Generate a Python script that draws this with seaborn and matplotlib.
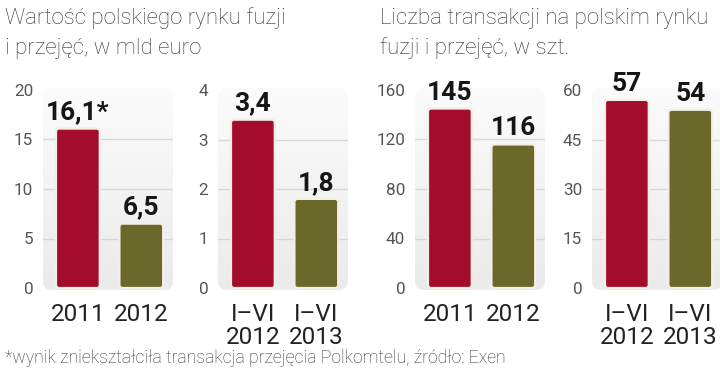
import numpy as np
import pandas as pd
import matplotlib.pyplot as plt
import seaborn as sns
from matplotlib.patches import FancyBboxPatch

# values
value_years = ['2011', '2012']
value_mld = [16.1, 6.5]
value_text = ['16,1*', '6,5']

value_h1_periods = ['I–VI\n2012', 'I–VI\n2013']
value_h1_mld = [3.4, 1.8]
value_h1_text = ['3,4', '1,8']

count_years = ['2011', '2012']
count_deals = [145, 116]
count_text = ['145', '116']

count_h1_periods = ['I–VI\n2012', 'I–VI\n2013']
count_h1_deals = [57, 54]
count_h1_text = ['57', '54']

title_value = ['Wartość polskiego rynku fuzji', 'i przejęć, w mld euro']
title_count = ['Liczba transakcji na polskim rynku', 'fuzji i przejęć, w szt.']
footnote = '*wynik zniekształciła transakcja przejęcia Polkomtelu, źródło: Exen'

RED = '#a30d2b'
OLIVE = '#6a692b'
W, H = 720, 372
AX_TOP, AX_BOT = 88, 290

sns.set_theme(style='white')
plt.rcParams['font.family'] = ['Roboto', 'DejaVu Sans']

fig = plt.figure(figsize=(W / 100, H / 100), dpi=100)


def panel(left_px, cats, vals, texts, ticks):
    ax = fig.add_axes([left_px / W, 1 - AX_BOT / H, 130 / W, (AX_BOT - AX_TOP) / H])
    df = pd.DataFrame({'cat': cats, 'val': vals})
    sns.barplot(data=df, x='cat', y='val', hue='cat', palette=[RED, OLIVE],
                saturation=1, width=0.69, legend=False, ax=ax, zorder=3)
    top = ticks[-1]
    span = AX_BOT - AX_TOP - 4

    # rounded background with a soft vertical gradient
    bg = FancyBboxPatch((0, 0), 1, 1, boxstyle='round,pad=0,rounding_size=0.07',
                        mutation_aspect=130 / 202, transform=ax.transAxes,
                        facecolor='none', edgecolor='none')
    ax.add_patch(bg)
    grad = np.linspace(0, 1, 100).reshape(-1, 1)
    im = ax.imshow(grad, cmap=sns.blend_palette(['#fbfbfb', '#ebebeb'], as_cmap=True),
                   extent=(0, 1, 0, 1), transform=ax.transAxes, aspect='auto',
                   origin='upper', zorder=0)
    im.set_clip_path(bg)
    ax.set_xlim(-0.55, 1.5)
    ax.set_ylim(-top * 2 / span, top * (span + 2) / span)

    for t in ticks[1:-1]:
        ax.axhline(t, color='#d8d8d8', lw=1, zorder=1)

    # swap plain bars for rounded ones
    x_per_px = 2.05 / 130
    y_per_px = (ax.get_ylim()[1] - ax.get_ylim()[0]) / 202
    for p in list(ax.patches):
        if p is bg:
            continue
        rb = FancyBboxPatch((p.get_x(), p.get_y()), p.get_width(), p.get_height(),
                            boxstyle=f'round,pad=0,rounding_size={3 * x_per_px}',
                            mutation_aspect=y_per_px / x_per_px,
                            facecolor=p.get_facecolor(), edgecolor='#f4efe4',
                            lw=1.6, zorder=3)
        p.remove()
        ax.add_patch(rb)

    for i, (v, t) in enumerate(zip(vals, texts)):
        ax.annotate(t, (i, v), xytext=(0, 6.5), textcoords='offset points',
                    ha='center', va='baseline', fontsize=19, fontweight='bold',
                    color='#161616', zorder=5)

    ax.set_yticks(ticks)
    ax.set_yticklabels([str(t) for t in ticks], color='#555555', fontsize=12.3)
    ax.tick_params(axis='y', length=0, pad=7)
    ax.tick_params(axis='x', length=0, pad=9.5, labelsize=17.5, labelcolor='#222222')
    for lab in ax.get_xticklabels():
        lab.set_linespacing(1.0)
    ax.set_xlabel('')
    ax.set_ylabel('')
    ax.grid(False)
    for s in ax.spines.values():
        s.set_visible(False)
    ax.set_facecolor('none')
    return ax


panel(43, value_years, value_mld, value_text, [0, 5, 10, 15, 20])
panel(218, value_h1_periods, value_h1_mld, value_h1_text, [0, 1, 2, 3, 4])
panel(415, count_years, count_deals, count_text, [0, 40, 80, 120, 160])
panel(592, count_h1_periods, count_h1_deals, count_h1_text, [0, 15, 30, 45, 60])

for x0, lines in [(5, title_value), (380, title_count)]:
    for k, line in enumerate(lines):
        fig.text(x0 / W, 1 - (24 + 30 * k) / H, line, fontsize=16, color='#333333',
                 fontweight='light', va='baseline', ha='left')

fig.text(5 / W, 1 - 363 / H, footnote, fontsize=12.7, color='#333333',
         fontweight='light', va='baseline', ha='left')

fig.savefig('out.png', dpi=100)
